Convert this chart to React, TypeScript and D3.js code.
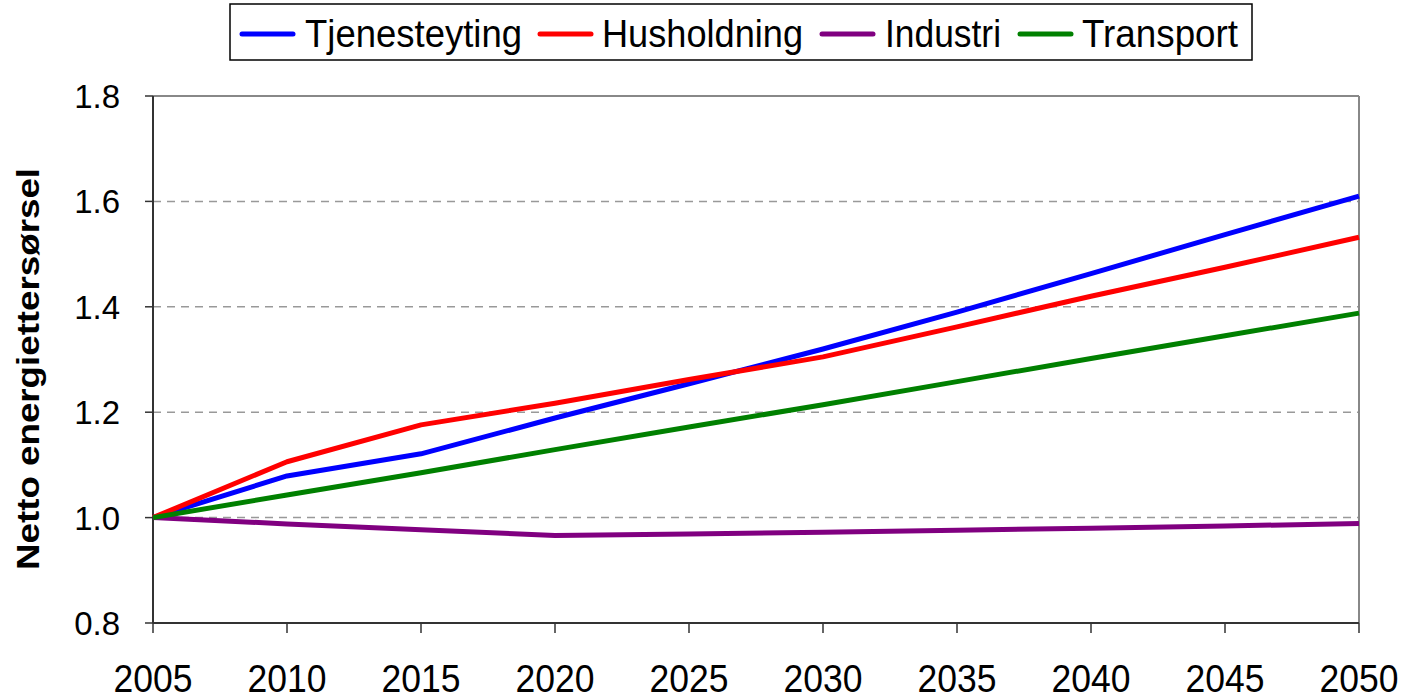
import React from "react";
import * as d3 from "d3";

const years = [2005, 2010, 2015, 2020, 2025, 2030, 2035, 2040, 2045, 2050];
const tjenesteyting = [1.0, 1.079, 1.121, 1.189, 1.254, 1.32, 1.39, 1.463, 1.537, 1.61];
const husholdning = [1.0, 1.106, 1.176, 1.217, 1.262, 1.305, 1.362, 1.42, 1.475, 1.532];
const industri = [1.0, 0.988, 0.977, 0.966, 0.969, 0.972, 0.976, 0.98, 0.984, 0.989];
const transport = [1.0, 1.043, 1.085, 1.129, 1.172, 1.214, 1.258, 1.302, 1.345, 1.388];
const yTicks = [0.8, 1.0, 1.2, 1.4, 1.6, 1.8];
const seriesNames = ["Tjenesteyting", "Husholdning", "Industri", "Transport"];
const seriesColors = ["#0000FF", "#FF0000", "#800080", "#008000"];
const seriesValues = [tjenesteyting, husholdning, industri, transport];
const yLabel = "Netto energiettersørsel";

const W = 1404;
const H = 695;
const left = 153, right = 1359, top = 96, bottom = 623;
const font = "'Liberation Sans', Arial, sans-serif";

export default function App() {
  const x = d3.scaleLinear().domain([2005, 2050]).range([left, right]);
  const y = d3.scaleLinear().domain([0.8, 1.8]).range([bottom, top]);
  const line = d3
    .line<number>()
    .x((_, i) => x(years[i]))
    .y((d) => y(d));

  const legendItems = [
    { lx: 242, tx: 305, tl: 217 },
    { lx: 540, tx: 602, tl: 201 },
    { lx: 822, tx: 885, tl: 116 },
    { lx: 1020, tx: 1082, tl: 156 },
  ];

  return (
    <svg
      width={W}
      height={H}
      style={{ position: "absolute", left: 0, top: 0, background: "#fff" }}
      fontFamily={font}
    >
      {yTicks
        .filter((t) => t > 0.8 && t < 1.8)
        .map((t) => (
          <line
            key={t}
            x1={left}
            x2={right}
            y1={y(t)}
            y2={y(t)}
            stroke="#999"
            strokeWidth={1.5}
            strokeDasharray="8,6"
          />
        ))}
      <line x1={left} x2={right} y1={y(1.8)} y2={y(1.8)} stroke="#888" strokeWidth={2} />
      <line x1={right} x2={right} y1={top} y2={bottom} stroke="#888" strokeWidth={2} />
      <line x1={left} x2={left} y1={top} y2={bottom} stroke="#333" strokeWidth={2} />
      <line x1={left} x2={right} y1={bottom} y2={bottom} stroke="#333" strokeWidth={2} />
      {yTicks.map((t) => (
        <g key={"yt" + t}>
          <line x1={left - 8} x2={left} y1={y(t)} y2={y(t)} stroke="#333" strokeWidth={1.5} />
          <text
            x={left - 33}
            y={y(t) + 12}
            textAnchor="end"
            fontSize={33}
            fill="#000"
          >
            {t.toFixed(1)}
          </text>
        </g>
      ))}
      {years.map((yr) => (
        <g key={"xt" + yr}>
          <line x1={x(yr)} x2={x(yr)} y1={bottom} y2={bottom + 10} stroke="#333" strokeWidth={1.5} />
          <text
            x={x(yr) - 39.5}
            y={692}
            fontSize={39}
            textLength={79}
            lengthAdjust="spacingAndGlyphs"
            fill="#000"
          >
            {yr}
          </text>
        </g>
      ))}
      <text
        transform={`translate(39, 570) rotate(-90)`}
        fontSize={32}
        fontWeight="bold"
        textLength={402}
        lengthAdjust="spacingAndGlyphs"
        fill="#000"
      >
        {yLabel}
      </text>
      {seriesValues.map((vals, i) => (
        <path
          key={seriesNames[i]}
          d={line(vals) || ""}
          fill="none"
          stroke={seriesColors[i]}
          strokeWidth={5}
          strokeLinejoin="round"
        />
      ))}
      <rect x={230} y={4} width={1022} height={56} fill="#fff" stroke="#000" strokeWidth={1.5} />
      {seriesNames.map((n, i) => (
        <g key={"lg" + n}>
          <line
            x1={legendItems[i].lx}
            x2={legendItems[i].lx + 51}
            y1={34}
            y2={34}
            stroke={seriesColors[i]}
            strokeWidth={5}
            strokeLinecap="round"
          />
          <text
            x={legendItems[i].tx}
            y={47}
            fontSize={38}
            textLength={legendItems[i].tl}
            lengthAdjust="spacingAndGlyphs"
            fill="#000"
          >
            {n}
          </text>
        </g>
      ))}
    </svg>
  );
}
